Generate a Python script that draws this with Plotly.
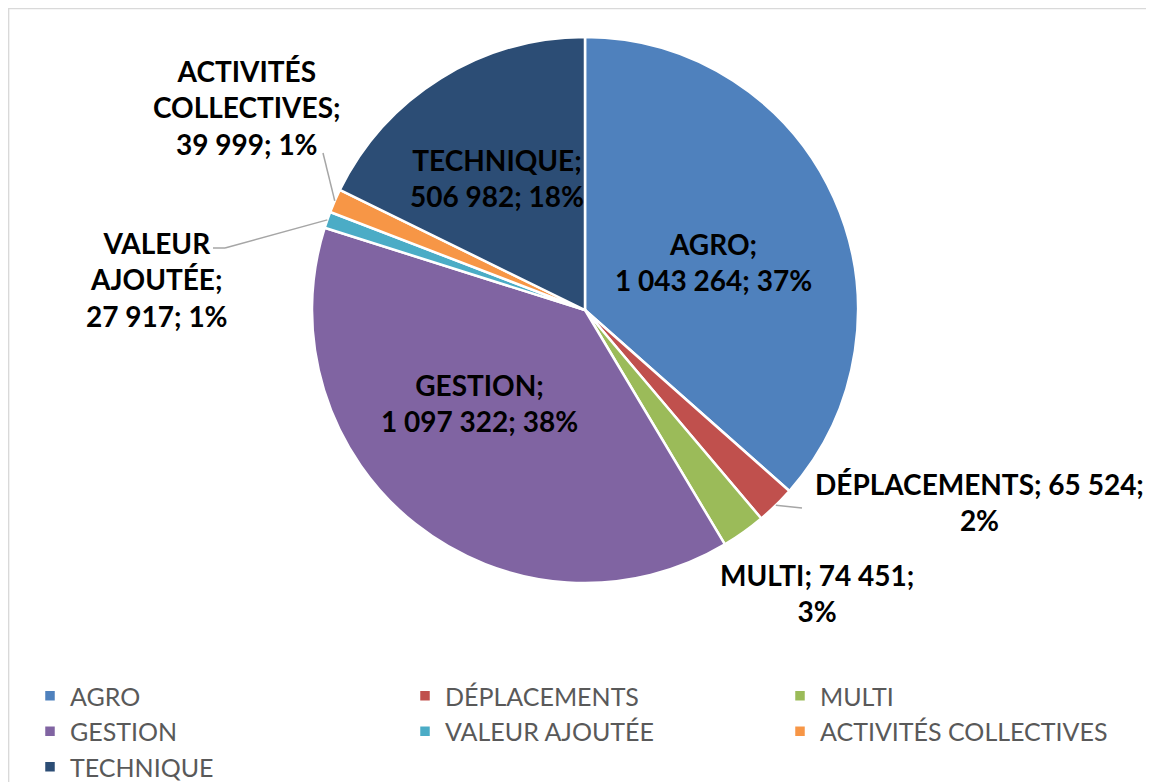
import math
import plotly.graph_objects as go

W, H = 1154, 782
OFF = 8  # default page body margin

# ---- data ----
labels = ["AGRO", "DÉPLACEMENTS", "MULTI", "GESTION", "VALEUR AJOUTÉE",
          "ACTIVITÉS COLLECTIVES", "TECHNIQUE"]
values = [1043264, 65524, 74451, 1097322, 27917, 39999, 506982]
colors = ["#4F81BD", "#C0504D", "#9BBB59", "#8064A2", "#4BACC6", "#F79646", "#2C4D75"]

# ---- layout helpers (page pixels -> paper) ----
CX, CY, R = 585, 310, 273
def px(x):
    return (x - OFF) / W
def py(y):
    return 1 - (y - OFF) / H

total = sum(values)

def fmt(v):
    return f"{v:,}".replace(",", " ")

# label wrapping style and placement (page pixels, block centre)
wrap = ["a", "b", "b", "a", "c", "c", "a"]
label_pos = [(713, 262), (979, 502), (817, 593), (479, 403), (157, 279), (247, 107), (497, 178)]
# leader line end points (None = no leader)
leaders = [None, [(802, 508)], None, None, [(225, 248), (213, 248)], [(323, 153)], None]

annotations = []
shapes = []
cum = 0
for i, (lab, v) in enumerate(zip(labels, values)):
    pct = round(v / total * 100)
    if wrap[i] == "a":
        txt = f"{lab};<br>{fmt(v)}; {pct}%"
    elif wrap[i] == "b":
        txt = f"{lab}; {fmt(v)};<br>{pct}%"
    else:
        a, b = lab.split(" ", 1)
        txt = f"{a}<br>{b};<br>{fmt(v)}; {pct}%"
    x, y = label_pos[i]
    annotations.append(dict(
        x=px(x), y=py(y), xref="paper", yref="paper", text=txt, showarrow=False,
        xanchor="center", yanchor="middle", align="center",
        font=dict(family="Lato", size=28, color="#000000", weight="bold")))
    mid = (cum + v / 2) / total * 2 * math.pi
    if leaders[i]:
        pts = [(CX + R * math.sin(mid), CY - R * math.cos(mid))] + leaders[i]
        for (x0, y0), (x1, y1) in zip(pts[:-1], pts[1:]):
            shapes.append(dict(type="line", xref="paper", yref="paper",
                               x0=px(x0), y0=py(y0), x1=px(x1), y1=py(y1),
                               line=dict(color="#A6A6A6", width=1.5)))
    cum += v

# chart border (top and left visible)
shapes.append(dict(type="rect", xref="paper", yref="paper",
                   x0=0.6 / W, y0=-0.02, x1=1.02, y1=1 - 0.6 / H,
                   line=dict(color="#D9D9D9", width=1.5), layer="below"))

fig = go.Figure(go.Pie(
    labels=labels, values=values, sort=False, direction="clockwise", rotation=0,
    marker=dict(colors=colors, line=dict(color="#FFFFFF", width=2.5)),
    textinfo="none", hoverinfo="label+value+percent",
    domain=dict(x=[px(CX - R), px(CX + R)], y=[py(CY + R), py(CY - R)]),
))

fig.update_layout(
    width=W, height=H,
    margin=dict(l=0, r=0, t=0, b=0, autoexpand=False),
    paper_bgcolor="#FFFFFF", plot_bgcolor="#FFFFFF",
    showlegend=True,
    legend=dict(orientation="h", x=px(30), y=py(673), xanchor="left", yanchor="top",
                entrywidth=330, entrywidthmode="pixels",
                font=dict(family="Lato", size=25, color="#595959"),
                itemclick=False, itemdoubleclick=False, tracegroupgap=0),
    annotations=annotations,
    shapes=shapes,
)

fig.write_html("out.html")
